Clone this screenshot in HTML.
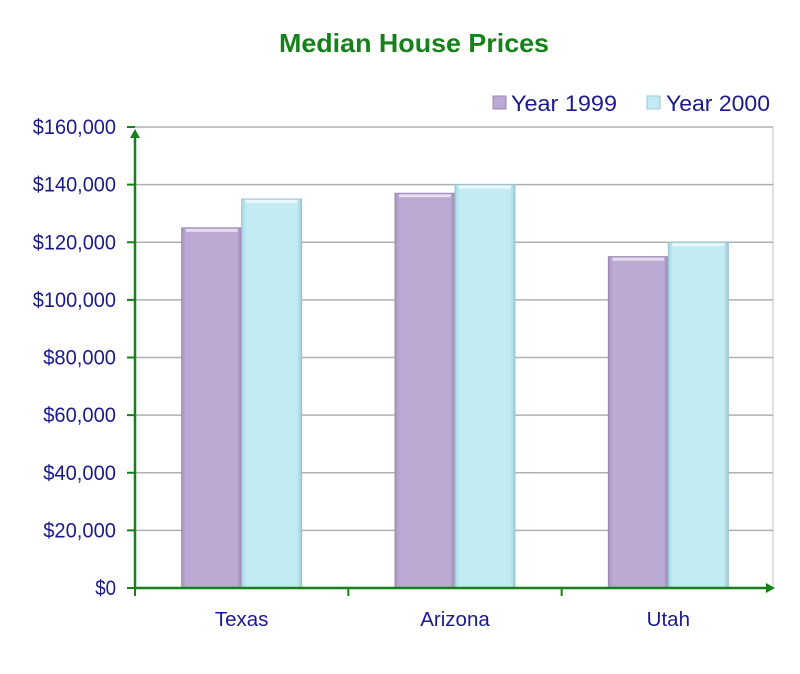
<!DOCTYPE html>
<html><head><meta charset="utf-8"><style>
body{margin:0;background:#fff;}
svg{display:block;font-family:"Liberation Sans",sans-serif;}
</style></head><body>
<svg id="chart" width="800" height="674" viewBox="0 0 800 674">
<defs>
<linearGradient id="gP" x1="0" x2="1"><stop offset="0" stop-color="#a995bf"/><stop offset="0.08" stop-color="#bca9d4"/><stop offset="0.92" stop-color="#bca9d4"/><stop offset="1" stop-color="#9c88b3"/></linearGradient>
<linearGradient id="gB" x1="0" x2="1"><stop offset="0" stop-color="#a8d8e4"/><stop offset="0.08" stop-color="#c3ebf4"/><stop offset="0.92" stop-color="#c3ebf4"/><stop offset="1" stop-color="#9fcbd6"/></linearGradient>
</defs>
<text x="414" y="52" text-anchor="middle" font-size="26" font-weight="bold" fill="#16801a" textLength="270" lengthAdjust="spacingAndGlyphs">Median House Prices</text>
<g>
<rect x="493" y="96" width="13" height="13" fill="url(#gP)" stroke="#9a88b0"/>
<text x="511" y="111" font-size="22" fill="#1a1a8c" textLength="106" lengthAdjust="spacingAndGlyphs">Year 1999</text>
<rect x="647" y="96" width="13" height="13" fill="url(#gB)" stroke="#9fcbd6"/>
<text x="666" y="111" font-size="22" fill="#1a1a8c" textLength="104" lengthAdjust="spacingAndGlyphs">Year 2000</text>
</g>
<g id="grid"></g><g id="bars"></g><g id="axes"></g>
</svg>
<script>
const categories=["Texas","Arizona","Utah"];
const year1999=[125000,137000,115000];
const year2000=[135000,140000,120000];
const yTicks=[0,20000,40000,60000,80000,100000,120000,140000,160000];
const NS="http://www.w3.org/2000/svg";
const X0=135,X1=775,Y0=588,Y1=127,YMAX=160000;
const y=v=>Y0-(v/YMAX)*(Y0-Y1);
const bw=(X1-X0)/categories.length;
const cx=i=>X0+bw*(i+0.5);
function mk(t,a,p){const e=document.createElementNS(NS,t);for(const k in a)e.setAttribute(k,a[k]);p.appendChild(e);return e;}
const grid=document.getElementById('grid'),bars=document.getElementById('bars'),axes=document.getElementById('axes');
mk('line',{x1:X1-2,y1:Y1,x2:X1-2,y2:Y0,stroke:'#e0e0e0','stroke-width':2},grid);
yTicks.forEach(v=>{
  if(v>0){const l=mk('line',{x1:X0,y1:y(v),x2:X1-2,y2:y(v),stroke:'#b0b0b0','stroke-width':1.5},grid);
  
  }
  mk('line',{x1:X0-8,y1:y(v),x2:X0,y2:y(v),stroke:'#16801a','stroke-width':2},axes);
  const s='$'+v.toLocaleString('en-US');
  const lb=mk('text',{x:116,y:y(v)+7,'text-anchor':'end','font-size':21,fill:'#1a1a8c',textLength:s.length*10.4,lengthAdjust:'spacingAndGlyphs'},axes);
  lb.textContent=s;
  
  
});
const BW=60;
categories.forEach((c,i)=>{
  [[year1999,'gP','#9a88b0',-BW],[year2000,'gB','#98c4cf',0]].forEach(([s,g,st,off],k)=>{
    const r=mk('rect',{x:cx(i)+off,y:y(s[i]),width:BW,height:Y0-y(s[i]),fill:'url(#'+g+')',stroke:st,'stroke-width':1},bars);
    
    
    mk('rect',{x:cx(i)+off+4,y:y(s[i])+1,width:BW-8,height:3,fill:'#fff',opacity:0.6},bars);
  });
  const lb=mk('text',{x:cx(i),y:626,'text-anchor':'middle','font-size':20.5,fill:'#1a1a8c'},axes);
  lb.textContent=c;
  
  
  if(i>0){mk('line',{x1:X0+bw*i,y1:Y0,x2:X0+bw*i,y2:Y0+8,stroke:'#16801a','stroke-width':2},axes);}
});
mk('line',{x1:X0,y1:Y0+8,x2:X0,y2:Y0,stroke:'#16801a','stroke-width':2},axes);
mk('line',{x1:X0,y1:Y0,x2:X1-4,y2:Y0,stroke:'#16801a','stroke-width':2.5},axes);
mk('polygon',{points:`${X1},${Y0} ${X1-9},${Y0-5} ${X1-9},${Y0+5}`,fill:'#16801a'},axes);
mk('line',{x1:X0,y1:Y0,x2:X0,y2:Y1+6,stroke:'#16801a','stroke-width':2.5},axes);
mk('polygon',{points:`${X0},${Y1+2} ${X0-5},${Y1+11} ${X0+5},${Y1+11}`,fill:'#16801a'},axes);
</script>
</body></html>
